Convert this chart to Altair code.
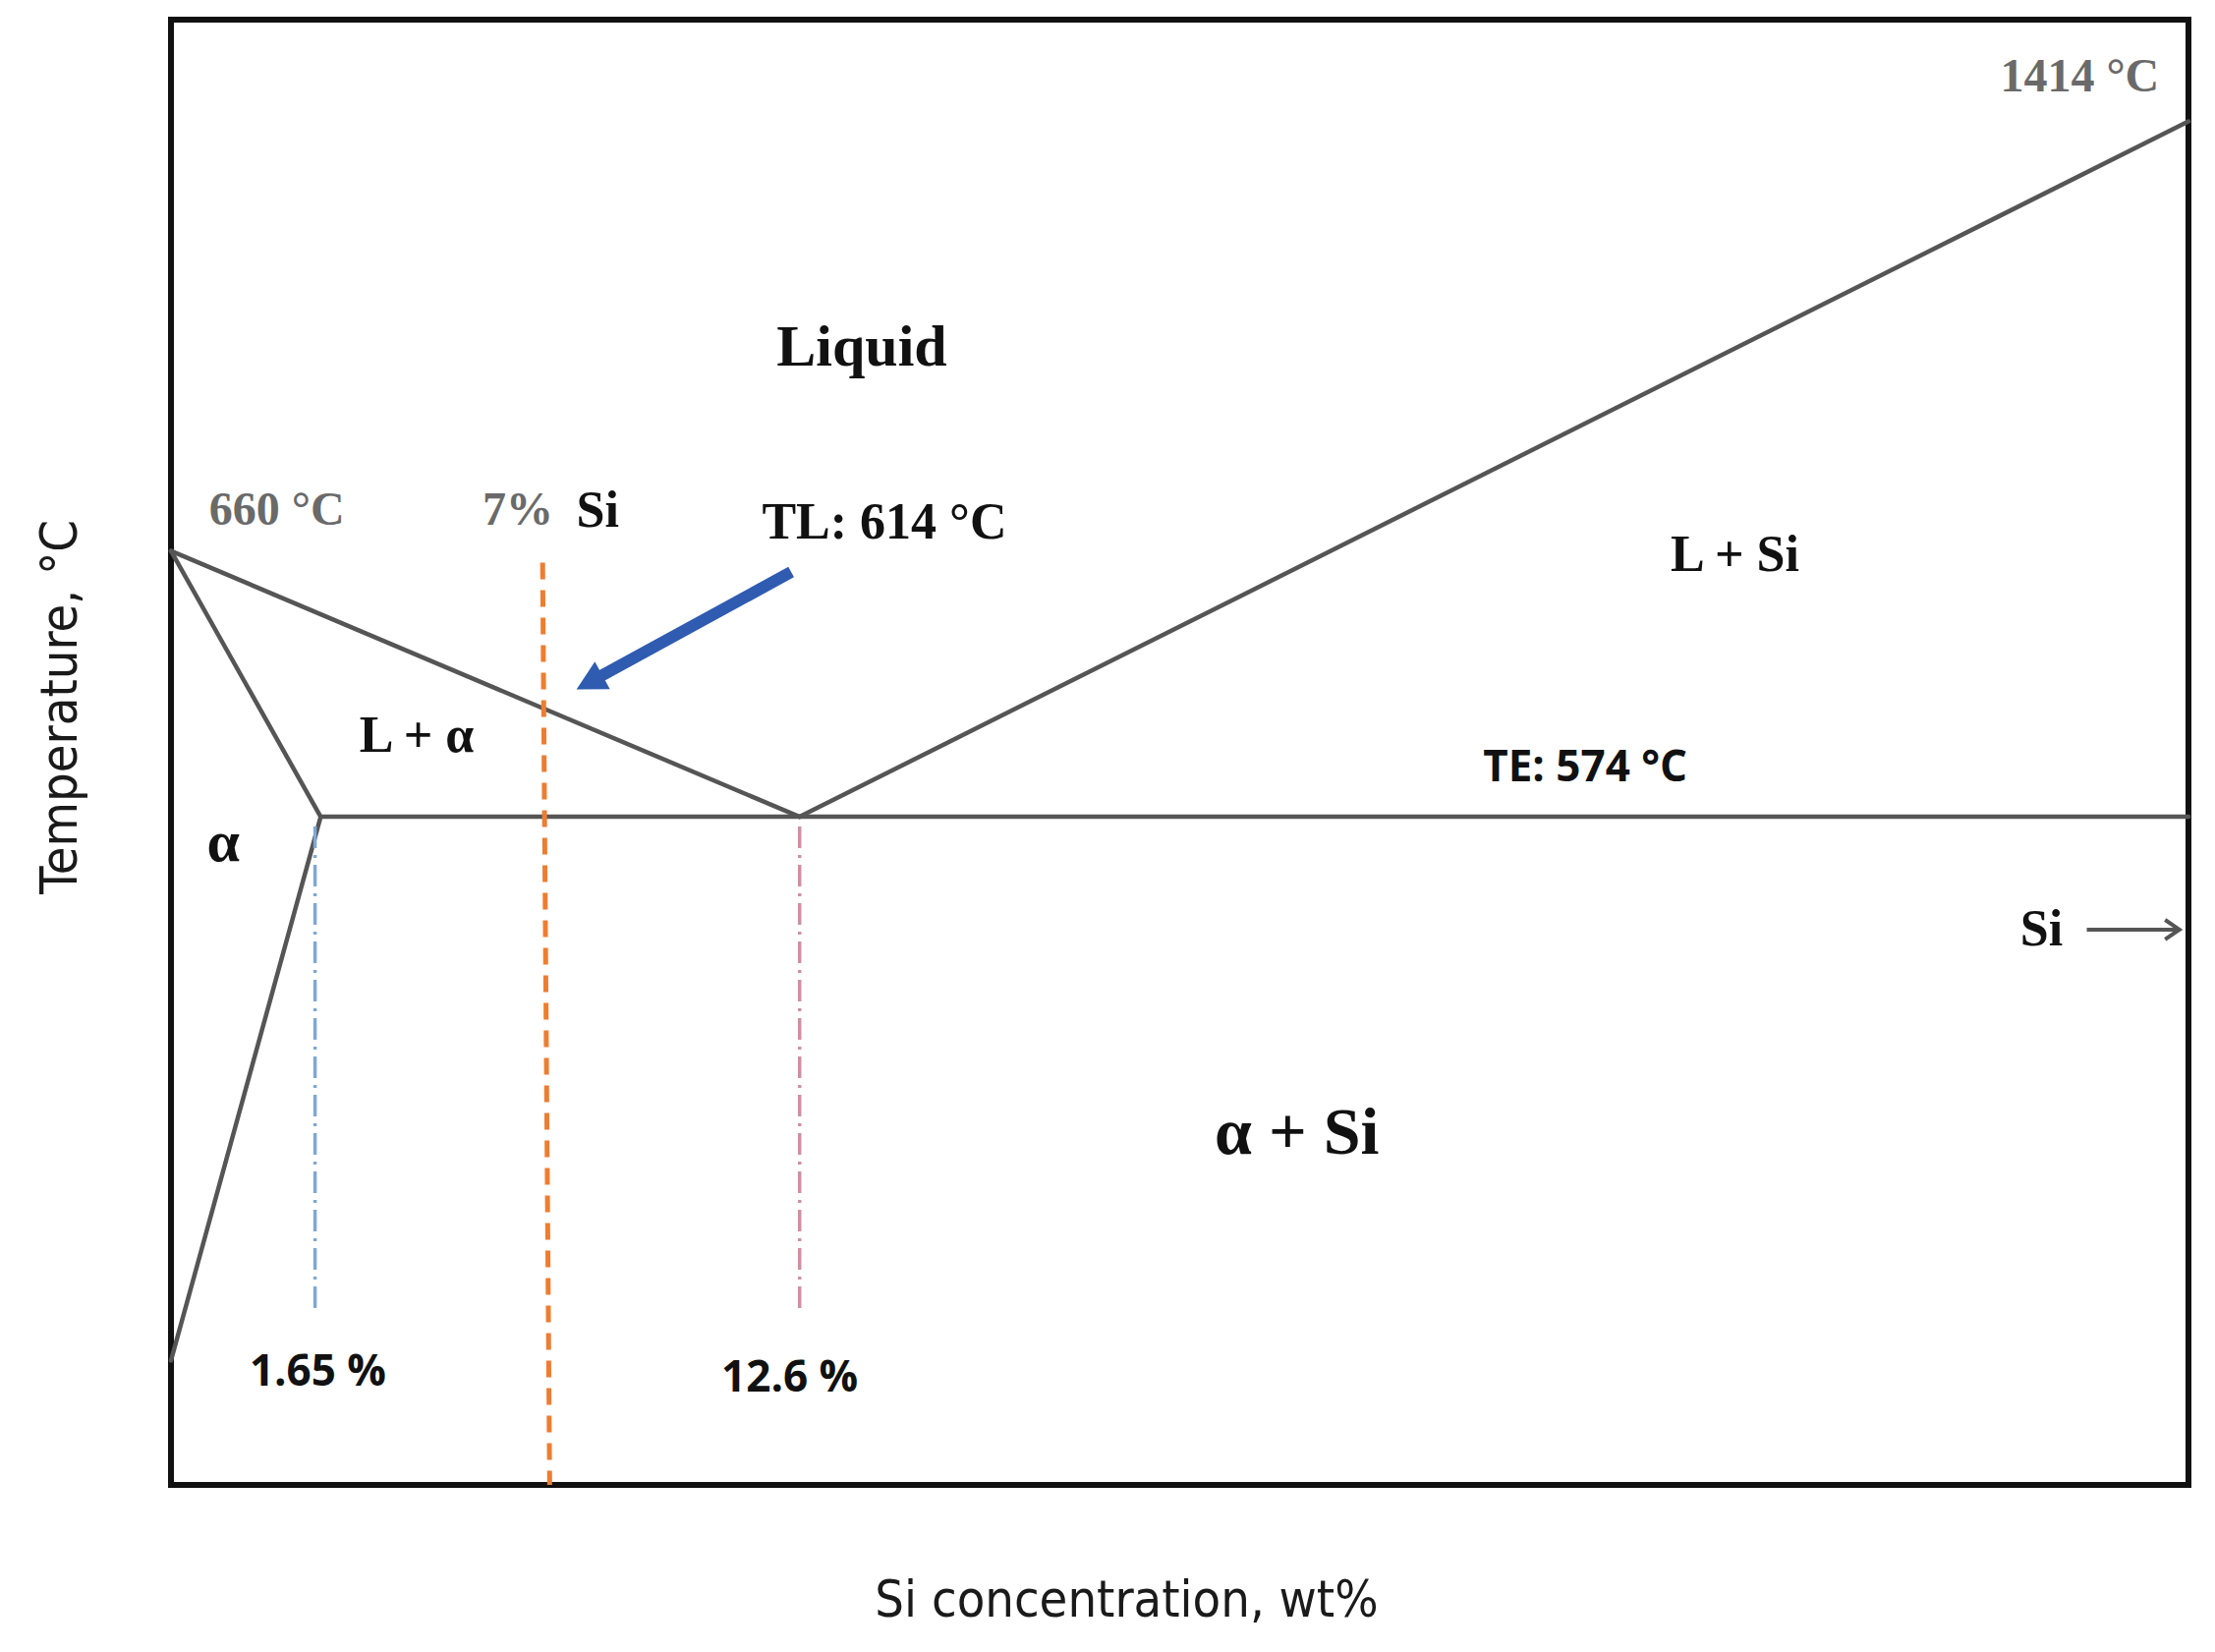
import altair as alt
import pandas as pd

# ---- schematic coordinates (0-100 across the frame) ----
# phase boundary segments
seg_name = ["liquidus_al", "solidus", "solvus", "liquidus_si", "eutectic"]
seg_x0 = [0.0, 0.0, 7.42, 31.16, 7.42]
seg_y0 = [63.74, 63.74, 45.6, 45.6, 45.6]
seg_x1 = [31.16, 7.42, 0.0, 100.0, 100.0]
seg_y1 = [45.6, 45.6, 8.49, 93.06, 45.6]

# reference verticals
orange_x = [18.42]; orange_y = [62.94]; orange_x2 = [18.77]; orange_y2 = [0.0]
blue_x = [7.14]; blue_y = [44.94]; blue_y2 = [11.67]
pink_x = [31.16]; pink_y = [44.94]; pink_y2 = [11.67]

# blue annotation arrow (TL)
arrow_tail = (30.74, 62.30)
arrow_neck = (21.32, 55.22)
arrow_tip = (20.10, 54.29)
arrow_angle = 241.4

# "Si ->" arrow
si_arrow_x = [94.96]; si_arrow_x2 = [99.55]; si_arrow_y = [37.90]

# labels
gray_labels = ["1414 °C", "660 °C", "7%"]
gray_x = [94.61, 5.25, 17.2]
gray_y = [96.05, 66.44, 66.44]

black_labels = ["TL: 614 °C", "L + Si", "L + α", "Si", "Si"]
black_x = [35.36, 77.52, 12.18, 21.15, 92.72]
black_y = [65.67, 63.45, 51.11, 66.44, 37.90]

big_labels = ["Liquid", "α"]
big_x = [34.24, 2.59]
big_y = [77.63, 43.78]

huge_labels = ["α + Si"]
huge_x = [55.81]
huge_y = [23.92]

sans_labels = ["TE: 574 °C", "1.65 %", "12.6 %"]
sans_x = [70.10, 7.28, 30.67]
sans_y = [48.89, 7.62, 7.23]

x_title = "Si concentration, wt%"
y_title = "Temperature, °C"

# ---------------------------------------------------------------------------
SERIF = "Liberation Serif, Times New Roman, serif"
SANS = "Open Sans, Liberation Sans, sans-serif"
NARROW = "DejaVu Sans Condensed, Liberation Sans Narrow, Roboto, sans-serif"

xs = alt.Scale(domain=[0, 100], nice=False, zero=False)
ys = alt.Scale(domain=[0, 100], nice=False, zero=False)

X = alt.X("x:Q", scale=xs, axis=alt.Axis(
    title=x_title, labels=False, ticks=False, domain=False, grid=False,
    titleFont=NARROW, titleFontSize=52, titleFontWeight="normal",
    titleColor="#1a1a1a", titlePadding=92, titleX=972))
Y = alt.Y("y:Q", scale=ys, axis=alt.Axis(
    title=y_title, labels=False, ticks=False, domain=False, grid=False,
    titleFont=NARROW, titleFontSize=52, titleFontWeight="normal",
    titleColor="#1a1a1a", titlePadding=86, titleY=699))

segs = pd.DataFrame({"name": seg_name, "x": seg_x0, "y": seg_y0, "x2": seg_x1, "y2": seg_y1})
lines = alt.Chart(segs).mark_rule(color="#555555", strokeWidth=4.5, strokeCap="round").encode(
    x=X, y=Y, x2="x2:Q", y2="y2:Q")

orange = alt.Chart(pd.DataFrame({"x": orange_x, "y": orange_y, "x2": orange_x2, "y2": orange_y2})).mark_rule(
    color="#ED7D31", strokeWidth=5, strokeDash=[17, 11]).encode(x=X, y=Y, x2="x2:Q", y2="y2:Q")

blue = alt.Chart(pd.DataFrame({"x": blue_x, "y": blue_y, "y2": blue_y2})).mark_rule(
    color="#7FA8D4", strokeWidth=3.5, strokeDash=[22, 7, 3, 7]).encode(x=X, y=Y, y2="y2:Q")

pink = alt.Chart(pd.DataFrame({"x": pink_x, "y": pink_y, "y2": pink_y2})).mark_rule(
    color="#CF8FA0", strokeWidth=3.5, strokeDash=[22, 7, 3, 7]).encode(x=X, y=Y, y2="y2:Q")

shaft = alt.Chart(pd.DataFrame({"x": [arrow_tail[0]], "y": [arrow_tail[1]],
                                "x2": [arrow_neck[0]], "y2": [arrow_neck[1]]})).mark_rule(
    color="#2F5BB0", strokeWidth=12, strokeCap="butt").encode(x=X, y=Y, x2="x2:Q", y2="y2:Q")

head = alt.Chart(pd.DataFrame({"x": [arrow_tip[0]], "y": [arrow_tip[1]]})).mark_point(
    shape="M0,0L0.8,1.5L-0.8,1.5Z", filled=True, color="#2F5BB0", opacity=1,
    size=1600, angle=arrow_angle).encode(x=X, y=Y)

si_line = alt.Chart(pd.DataFrame({"x": si_arrow_x, "x2": si_arrow_x2, "y": si_arrow_y})).mark_rule(
    color="#555555", strokeWidth=4).encode(x=X, x2="x2:Q", y=Y)

si_head = alt.Chart(pd.DataFrame({"x": si_arrow_x2, "y": si_arrow_y})).mark_point(
    shape="M-1.1,-0.75L0,0L-1.1,0.75", filled=False, color="#555555", opacity=1,
    strokeWidth=4, size=700).encode(x=X, y=Y)


def text_layer(labels, xv, yv, font, size, color, weight="bold"):
    df = pd.DataFrame({"label": labels, "x": xv, "y": yv})
    return alt.Chart(df).mark_text(font=font, fontSize=size, fontWeight=weight, color=color,
                                   align="center", baseline="middle").encode(x=X, y=Y, text="label:N")


t_gray = text_layer(gray_labels, gray_x, gray_y, SERIF, 48, "#6a6a6a")
t_black = text_layer(black_labels, black_x, black_y, SERIF, 52, "#111111")
t_big = text_layer(big_labels, big_x, big_y, SERIF, 60, "#111111")
t_huge = text_layer(huge_labels, huge_x, huge_y, SERIF, 68, "#111111")
t_sans = text_layer(sans_labels, sans_x, sans_y, SANS, 44, "#111111")

chart = alt.layer(lines, orange, blue, pink, shaft, head, si_line, si_head,
                  t_gray, t_black, t_big, t_huge, t_sans).properties(
    width=2053, height=1491,
    autosize=alt.AutoSizeParams(type="none"),
    padding={"left": 166, "top": 12, "right": 10, "bottom": 150},
    background="white",
).configure_view(stroke="#111111", strokeWidth=6)

chart.save("out.html", embed_options={"renderer": "svg", "actions": False})
